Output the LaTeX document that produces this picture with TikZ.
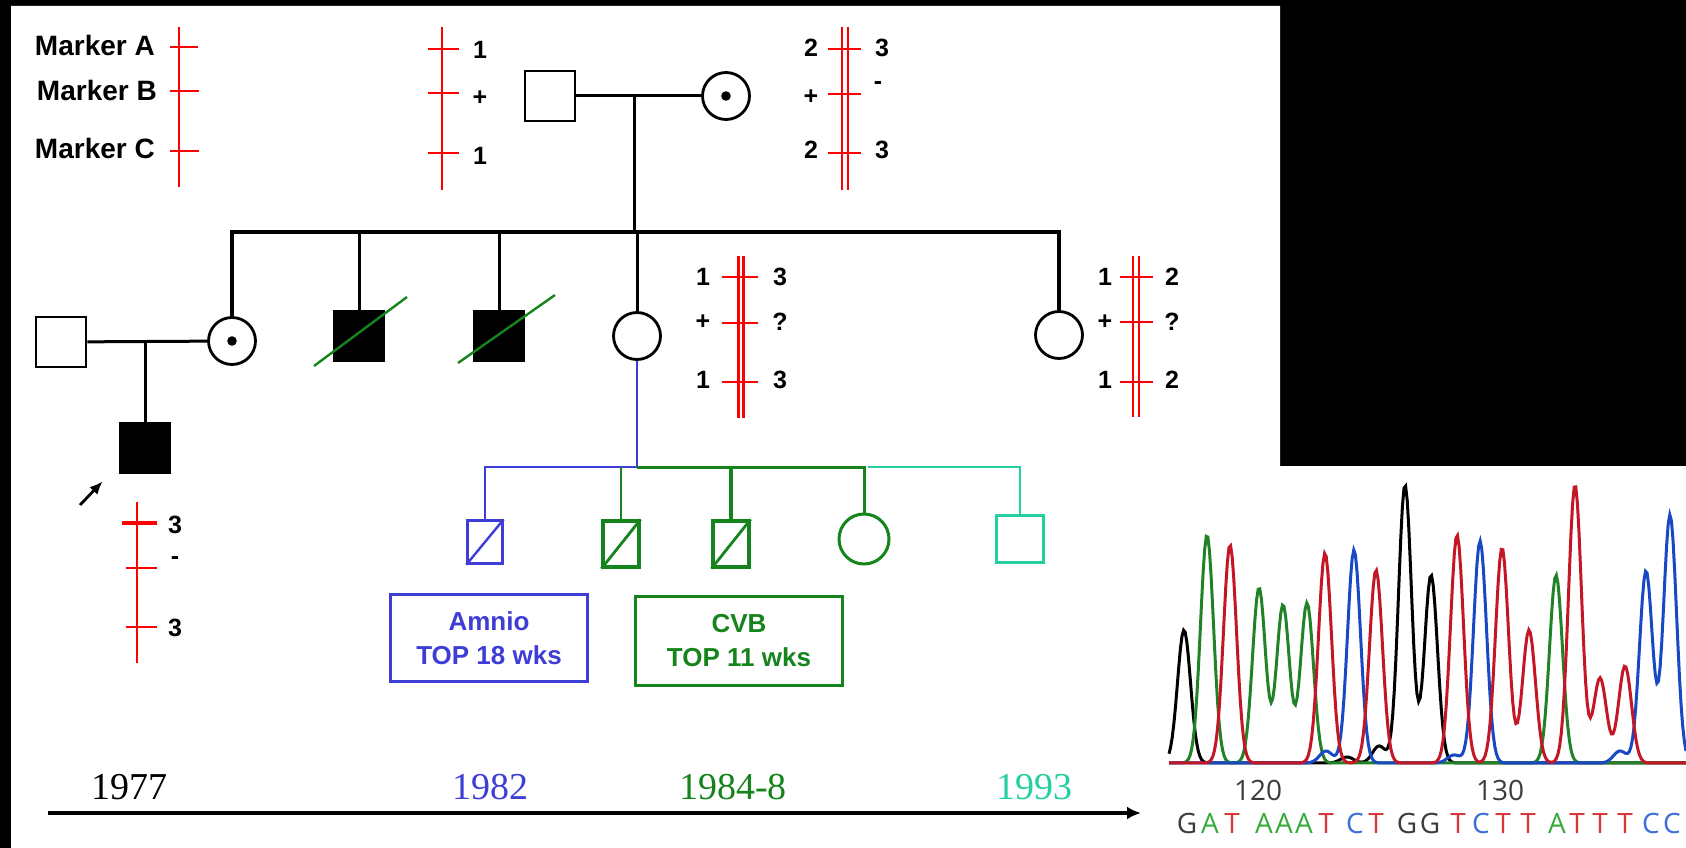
\documentclass[tikz,border=0pt]{standalone}
\usepackage{fontspec}
\setmainfont{Liberation Sans}
\newfontfamily\yearfont{Liberation Serif}
\newfontfamily\seqfont{Open Sans}
\usetikzlibrary{arrows.meta,positioning,calc}
\definecolor{pedblue}{RGB}{62,62,214}
\definecolor{pedgreen}{RGB}{22,132,28}
\definecolor{pedteal}{RGB}{36,208,160}
\definecolor{trG}{RGB}{34,130,40}
\definecolor{trR}{RGB}{196,22,36}
\definecolor{trB}{RGB}{24,72,196}
\definecolor{bsG}{RGB}{60,60,60}
\definecolor{bsA}{RGB}{56,170,60}
\definecolor{bsT}{RGB}{214,56,56}
\definecolor{bsC}{RGB}{60,110,220}

\begin{document}
\begin{tikzpicture}[x=1pt, y=-1pt,
    kin/.style={line width=3pt},
    male/.style={draw, line width=2.8pt, minimum size=50pt, inner sep=0pt},
    female/.style={draw, circle, line width=2.8pt, minimum size=47pt, inner sep=0pt},
    chrom/.style={red, line width=2.4pt},
    allele/.style={font=\fontsize{25}{25}\selectfont\bfseries, inner sep=0pt},
    marker/.style={font=\fontsize{28}{28}\selectfont\bfseries, inner sep=0pt, anchor=east},
    slash/.style={pedgreen, line width=2.4pt},
    testbox/.style={line width=2.4pt, align=center, font=\fontsize{26}{34}\selectfont\bfseries},
    year/.style={font=\yearfont\fontsize{38}{38}\selectfont, inner sep=0pt},
    base/.style={font=\seqfont\fontsize{28}{28}\selectfont, inner sep=0pt},
    trace/.style={line width=3pt},
    declare function={pk(\xx,\mm,\hh)=\hh*exp(-min(0.5*((\xx-\mm)/6.5)*((\xx-\mm)/6.5),12));}]
  \useasboundingbox (0,0) rectangle (1686,848);

  % Background
  \fill[black] (0,0) rectangle (1686,848);
  \fill[white] (11,6) -- (1280,6) -- (1280,466) -- (1686,466) -- (1686,848) -- (11,848) -- cycle;

  % Marker key
  \begin{scope}[shift={(179,0)}]
    \draw[chrom] (0,27) -- (0,187);
    \draw[chrom] (-9,47) -- (19,47);
    \draw[chrom] (-9,91) -- (20,91);
    \draw[chrom] (-9,151) -- (20,151);
  \end{scope}
  \node[marker] (mkA) at (155,45) {Marker A};
  \node[marker] (mkB) at (157,90) {Marker B};
  \node[marker] (mkC) at (155,148) {Marker C};

  % Grandfather haplotype
  \begin{scope}[shift={(442,0)}]
    \draw[chrom] (0,27) -- (0,190);
    \draw[chrom] (-14,49) -- (17,49);
    \draw[chrom] (-14,93) -- (17,93);
    \draw[chrom] (-14,153) -- (17,153);
    \node[allele] (gfA) at (38,50) {1};
    \node[allele] (gfB) at (38,98) {+};
    \node[allele] (gfC) at (38,156) {1};
  \end{scope}

  % Grandmother haplotypes
  \begin{scope}[shift={(845,0)}]
    \draw[chrom] (-3,27) -- (-3,190);
    \draw[chrom] (3,27) -- (3,190);
    \draw[chrom] (-17,49) -- (16,49);
    \draw[chrom] (-17,94) -- (16,94);
    \draw[chrom] (-17,153) -- (16,153);
    \node[allele] (gmA1) at (-34,48) {2};
    \node[allele] (gmB1) at (-34,97) {+};
    \node[allele] (gmC1) at (-34,150) {2};
    \node[allele] (gmA2) at (37,48) {3};
    \node[allele] (gmB2) at (33,86) {-};
    \node[allele] (gmC2) at (37,150) {3};
  \end{scope}

  % Generation I
  \node[male] (gf) at (550,96) {};
  \node[female] (gm) at (726,96) {};
  \fill (gm) circle (4.8);
  \draw[kin] (gf) -- (gm);
  \coordinate (gpar) at (634,96);
  \coordinate (sib) at (634,232);
  \draw[kin] (gpar) -- (sib);

  % Generation II
  \node[female] (sis1) at (232,341) {};
  \fill (sis1) circle (4.8);
  \node[male, fill=black] (bro1) at (359,336) {};
  \node[male, fill=black] (bro2) at (499,336) {};
  \node[female] (sis2) at (637,336) {};
  \node[female] (sis3) at (1059,335) {};
  \draw[kin, line width=3.5pt] (sis1.north) |- (sib) -| (sis3.north);
  \draw[kin] (bro1) -- (bro1 |- sib);
  \draw[kin] (bro2) -- (bro2 |- sib);
  \draw[kin] (sis2) -- (sis2 |- sib);
  \draw[slash] ($(bro1)+(-45,30)$) -- ($(bro1)+(48,-39)$);
  \draw[slash] ($(bro2)+(-41,27)$) -- ($(bro2)+(56,-41)$);

  % Consultand haplotypes
  \begin{scope}[shift={(741,0)}]
    \draw[chrom] (-2.5,256) -- (-2.5,418);
    \draw[chrom] (2.5,256) -- (2.5,418);
    \draw[chrom] (-19,277) -- (17,277);
    \draw[chrom] (-19,323) -- (17,323);
    \draw[chrom] (-19,382) -- (17,382);
    \node[allele] (csA1) at (-38,277) {1};
    \node[allele] (csB1) at (-38,322) {+};
    \node[allele] (csC1) at (-38,380) {1};
    \node[allele] (csA2) at (39,277) {3};
    \node[allele] (csB2) at (39,322) {?};
    \node[allele] (csC2) at (39,380) {3};
  \end{scope}

  % Youngest sister haplotypes
  \begin{scope}[shift={(1136,0)}]
    \draw[chrom] (-3,256) -- (-3,417);
    \draw[chrom] (3,256) -- (3,417);
    \draw[chrom] (-16,277) -- (17,277);
    \draw[chrom] (-16,322) -- (17,322);
    \draw[chrom] (-16,382) -- (17,382);
    \node[allele] (ysA1) at (-31,277) {1};
    \node[allele] (ysB1) at (-31,322) {+};
    \node[allele] (ysC1) at (-31,380) {1};
    \node[allele] (ysA2) at (36,277) {2};
    \node[allele] (ysB2) at (36,322) {?};
    \node[allele] (ysC2) at (36,380) {2};
  \end{scope}

  % Proband and parents
  \node[male] (hus) at (61,342) {};
  \draw[kin] (hus) -- (sis1);
  \node[male, fill=black] (pro) at (145,448) {};
  \draw[kin] (pro) -- (pro |- hus);
  \coordinate (ptail) at (80,505);
  \draw[-{Latex[length=13pt,width=11pt]}, line width=2.8pt] (ptail) -- ($(pro.south west)+(-16,7)$);

  \begin{scope}[shift={(137,0)}]
    \draw[chrom] (0,502) -- (0,663);
    \draw[chrom, line width=3.2pt] (-15,523) -- (20,523);
    \draw[chrom] (-11,568) -- (20,568);
    \draw[chrom] (-11,627) -- (20,627);
    \node[allele] (prA) at (38,525) {3};
    \node[allele] (prB) at (38,561) {-};
    \node[allele] (prC) at (38,628) {3};
  \end{scope}

  % Generation III
  \coordinate (off) at (637,467);
  \node[male, pedblue, line width=2.4pt, minimum width=35pt, minimum height=43pt] (amn) at (485,542) {};
  \draw[pedblue, line width=2.4pt] (amn.south west) -- (amn.north east);
  \node[male, pedgreen, line width=3.2pt, minimum width=36pt, minimum height=46pt] (cvs1) at (621,544) {};
  \draw[pedgreen, line width=2.8pt] (cvs1.south west) -- (cvs1.north east);
  \node[male, pedgreen, line width=3.2pt, minimum width=36pt, minimum height=46pt] (cvs2) at (731,544) {};
  \draw[pedgreen, line width=2.8pt] (cvs2.south west) -- (cvs2.north east);
  \node[female, pedgreen, line width=3pt, minimum size=50pt] (dau) at (864,539) {};
  \node[male, pedteal, line width=2.4pt, minimum size=47pt] (son) at (1020,539) {};

  \draw[pedblue, line width=2.4pt] (sis2) -- (off) -- (amn |- off) -- (amn);
  \draw[pedgreen, line width=3pt] (off) -| (dau);
  \draw[pedgreen, line width=2.4pt] (cvs1) -- (cvs1 |- off);
  \draw[pedgreen, line width=3.2pt] (cvs2) -- (cvs2 |- off);
  \coordinate (tealstart) at (868,467);
  \draw[pedteal, line width=2.4pt] (tealstart) -| (son);

  \node[testbox, draw=pedblue, text=pedblue, minimum width=197pt, minimum height=87pt] (amnio) at (489,638) {Amnio\\TOP 18 wks};
  \node[testbox, draw=pedgreen, text=pedgreen, minimum width=207pt, minimum height=89pt] (cvb) at (739,641) {CVB\\TOP 11 wks};

  % Time line
  \coordinate (tstart) at (48,813);
  \coordinate (tend) at (1141,813);
  \draw[-{Latex[length=14pt,width=13pt]}, line width=3.2pt] (tstart) -- (tend);
  \node[year] (y77) at (129,787) {1977};
  \node[year, text=pedblue] (y82) at (490,787) {1982};
  \node[year, text=pedgreen] (y84) at (733,787) {1984-8};
  \node[year, text=pedteal] (y93) at (1034,787) {1993};

  % Sequence trace
  \draw[trace, black] plot[domain=1169:1686, samples=320, variable=\t]
    (\t, {763 - pk(\t,1184,133) - pk(\t,1405,278) - pk(\t,1431,188) - pk(\t,1379,17) - pk(\t,1347,6)});
  \draw[trace, trG] plot[domain=1169:1686, samples=320, variable=\t]
    (\t, {763 - pk(\t,1207,228) - pk(\t,1259,175) - pk(\t,1283,158) - pk(\t,1307,160) - pk(\t,1556,188)});
  \draw[trace, trB] plot[domain=1169:1686, samples=320, variable=\t]
    (\t, {763 - pk(\t,1354,213) - pk(\t,1480,222) - pk(\t,1646,192) - pk(\t,1670,248) - pk(\t,1326,12) - pk(\t,1454,8) - pk(\t,1620,12)});
  \draw[trace, trR] plot[domain=1169:1686, samples=320, variable=\t]
    (\t, {763 - pk(\t,1230,218) - pk(\t,1325,210) - pk(\t,1376,193) - pk(\t,1457,228) - pk(\t,1502,215) - pk(\t,1529,133) - pk(\t,1575,278) - pk(\t,1600,85) - pk(\t,1625,97)});

  \node[base, text=bsG] (n120) at (1258,790) {120};
  \node[base, text=bsG] (n130) at (1500,790) {130};

  \node[base, text=bsG] (q1) at (1187,823) {G}; \node[base, text=bsA] (q2) at (1210,823) {A}; \node[base, text=bsT] (q3) at (1232,823) {T};
  \node[base, text=bsA] (q4) at (1264,823) {A}; \node[base, text=bsA] (q5) at (1284,823) {A}; \node[base, text=bsA] (q6) at (1304,823) {A};
  \node[base, text=bsT] (q7) at (1326,823) {T}; \node[base, text=bsC] (q8) at (1355,823) {C}; \node[base, text=bsT] (q9) at (1376,823) {T};
  \node[base, text=bsG] (q10) at (1407,823) {G}; \node[base, text=bsG] (q11) at (1430,823) {G}; \node[base, text=bsT] (q12) at (1458,823) {T};
  \node[base, text=bsC] (q13) at (1481,823) {C}; \node[base, text=bsT] (q14) at (1503,823) {T}; \node[base, text=bsT] (q15) at (1528,823) {T};
  \node[base, text=bsA] (q16) at (1557,823) {A}; \node[base, text=bsT] (q17) at (1577,823) {T}; \node[base, text=bsT] (q18) at (1600,823) {T};
  \node[base, text=bsT] (q19) at (1625,823) {T}; \node[base, text=bsC] (q20) at (1651,823) {C}; \node[base, text=bsC] (q21) at (1672,823) {C};
\end{tikzpicture}
\end{document}
